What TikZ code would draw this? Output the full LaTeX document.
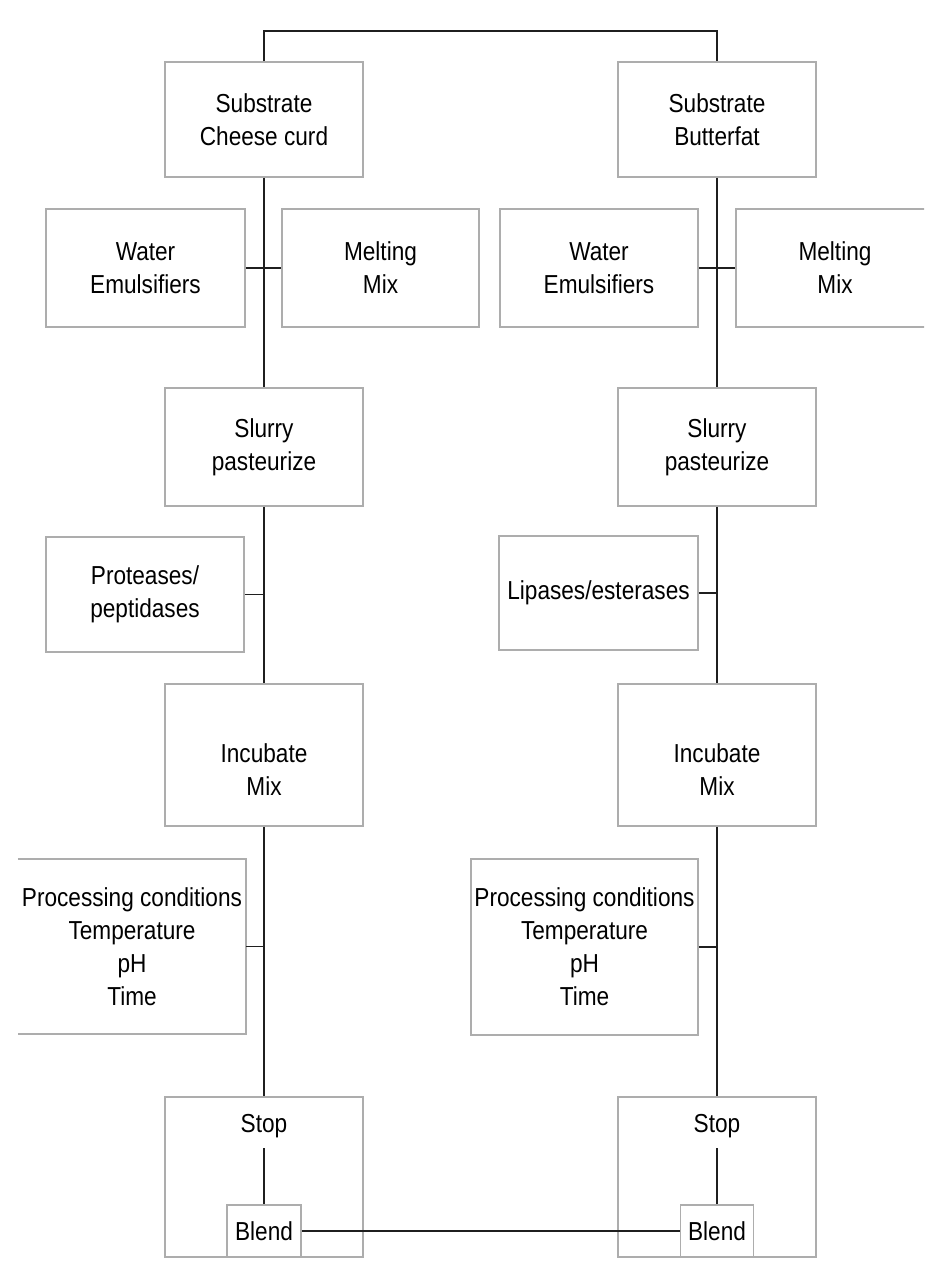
\documentclass[tikz,border=0pt]{standalone}
\usepackage{fontspec}
\setmainfont{Liberation Sans}[FakeStretch=0.87]
\begin{document}
\begin{tikzpicture}[x=1pt,y=-1pt,
  box/.style={draw=black!32,line width=1.6pt,fill=none,inner sep=0pt,align=center,
    font=\fontsize{26}{33}\selectfont},
  txt/.style={inner sep=0pt,align=center,font=\fontsize{26}{33}\selectfont},
  conn/.style={draw=black!88,line width=1.8pt},
  mainw/.style={minimum width=198pt}]
\useasboundingbox (0,0) rectangle (924,1263);
\clip (0,0) rectangle (924,1263);
\fill[white] (0,0) rectangle (924,1263);
% ---- left column
\node[box,mainw,minimum height=115pt] (s1) at (264,119.5) {Substrate\\Cheese curd};
\node[box,minimum width=199pt,minimum height=118pt] (w1) at (145.5,268) {Water\\Emulsifiers};
\node[box,minimum width=197pt,minimum height=118pt] (m1) at (380.5,268) {Melting\\Mix};
\node[box,mainw,minimum height=118pt] (sl1) at (264,447) {Slurry\\pasteurize};
\node[box,mainw,minimum height=115pt] (p1) at (145,594.5) {Proteases/\\peptidases};
\node[box,mainw,minimum height=142pt] (i1) at (264,755) {};
\node[txt] (it1) at (264,770) {Incubate\\Mix};
\node[txt,minimum width=228pt,minimum height=175pt] (pc1) at (132,946.5) {Processing conditions\\Temperature\\pH\\Time};
\draw[draw=black!32,line width=1.6pt] (pc1.north west) -- (pc1.north east) -- (pc1.south east) -- (pc1.south west);
\node[box,mainw,minimum height=160pt] (stop1) at (264,1177) {};
\node[txt] (st1) at (264,1126) {Stop};
\node[box,minimum width=74pt,minimum height=52pt] (b1) at (264,1231) {Blend};
% ---- right column
\node[box,mainw,minimum height=115pt] (s2) at (717,119.5) {Substrate\\Butterfat};
\node[box,mainw,minimum height=118pt] (w2) at (599,268) {Water\\Emulsifiers};
\node[box,mainw,minimum height=118pt] (m2) at (835,268) {Melting\\Mix};
\node[box,mainw,minimum height=118pt] (sl2) at (717,447) {Slurry\\pasteurize};
\node[box,minimum width=199pt,minimum height=114pt] (l2) at (598.5,593) {Lipases/esterases};
\node[box,mainw,minimum height=142pt] (i2) at (717,755) {};
\node[txt] (it2) at (717,770) {Incubate\\Mix};
\node[box,minimum width=227pt,minimum height=176pt] (pc2) at (584.5,947) {Processing conditions\\Temperature\\pH\\Time};
\node[box,mainw,minimum height=160pt] (stop2) at (717,1177) {};
\node[txt] (st2) at (717,1126) {Stop};
\node[box,minimum width=73pt,minimum height=52pt] (b2) at (717,1231) {Blend};
% ---- connectors
\draw[conn] (s1.north) -- ++(0,-30) -| (s2.north);
\draw[conn] (s1.south) -- (sl1.north);
\draw[conn] (w1.east) -- (m1.west);
\draw[conn] (sl1.south) -- (i1.north);
\draw[conn] (p1.east) -- (p1.east -| sl1.south);
\draw[conn] (i1.south) -- (stop1.north);
\draw[conn] (pc1.east) -- (pc1.east -| i1.south);
\draw[conn] (b1.north) -- ([yshift=-10pt]b1.north |- st1.south);
\draw[conn] (s2.south) -- (sl2.north);
\draw[conn] (w2.east) -- (m2.west);
\draw[conn] (sl2.south) -- (i2.north);
\draw[conn] (l2.east) -- (l2.east -| sl2.south);
\draw[conn] (i2.south) -- (stop2.north);
\draw[conn] (pc2.east) -- (pc2.east -| i2.south);
\draw[conn] (b2.north) -- ([yshift=-10pt]b2.north |- st2.south);
\draw[conn,line width=1.5pt] (b1.east) -- (b2.west);
\end{tikzpicture}
\end{document}
